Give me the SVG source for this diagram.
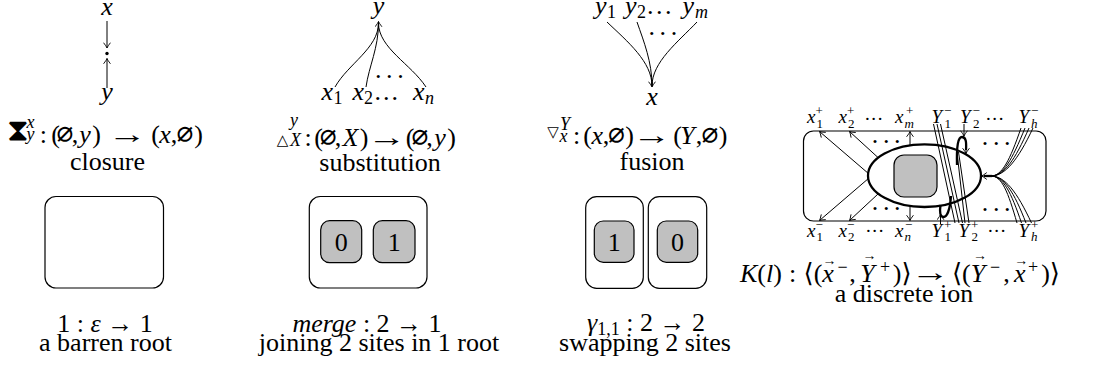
<svg xmlns="http://www.w3.org/2000/svg" width="1094" height="365" viewBox="0 0 1094 365" font-family="'Liberation Serif', 'Times New Roman', 'DejaVu Serif', serif">
<defs>
<style>
text{font-family:'Liberation Serif','Times New Roman','DejaVu Serif',serif;fill:#000}
.m{font-size:26px}
.i{font-style:italic}
.u{font-style:normal}
.s{font-size:18px}
.es{font-family:'DejaVu Sans Mono','DejaVu Sans',monospace;font-size:28px;font-style:normal}
.sym{font-family:'DejaVu Sans','DejaVu Serif',sans-serif}
.lab{font-size:19px;font-style:italic}
.sc{font-size:13px}
.dt{font-size:26px;letter-spacing:4.6px}
.ldt{font-size:19px;letter-spacing:1.6px;font-style:normal}
.va{font-size:14px;font-style:normal}
.ln{fill:none;stroke:#000;stroke-width:1}
.th{fill:none;stroke:#000;stroke-width:2.3}
.box{fill:#fff;stroke:#000;stroke-width:1.2}
.site{fill:#c0c0c0;stroke:#000;stroke-width:1.2}
.a{marker-end:url(#ah)}
</style>
<marker id="ah" viewBox="-6 -4 7 8" refX="0" refY="0" markerWidth="7" markerHeight="8" orient="auto" markerUnits="userSpaceOnUse">
<path d="M-5,-3.2 Q-1.8,-0.7 0,0 Q-1.8,0.7 -5,3.2" fill="none" stroke="#000" stroke-width="0.9" stroke-linecap="round"/>
</marker>
</defs>
<rect width="1094" height="365" fill="#fff"/>

<g id="closure">
<text class="m i" x="107" y="15" text-anchor="middle">x</text>
<circle cx="107" cy="53.5" r="1.7"/>
<text class="m i" x="107" y="100" text-anchor="middle">y</text>
<text class="sym" x="17.5" y="140" text-anchor="middle" style="font-size:31px">⧗</text>
<text class="s i" x="26.5" y="128.3">x</text>
<text class="s i" x="26.5" y="140">y</text>
<text class="m" text-anchor="middle" y="142.5"><tspan x="43.3">:</tspan><tspan x="55.5">(</tspan><tspan class="es" x="65">∅</tspan><tspan x="75">,</tspan><tspan class="i" x="85">y</tspan><tspan x="96.5">)</tspan><tspan x="155.5">(</tspan><tspan class="i" x="165">x</tspan><tspan x="174">,</tspan><tspan class="es" x="185">∅</tspan><tspan x="198.5">)</tspan></text>
<text class="m" text-anchor="middle" transform="translate(127.5 142.5) scale(1.5 1)">→</text>
<text class="m" x="107.5" y="170" text-anchor="middle">closure</text>
</g>

<g id="substitution">
<text class="m i" x="378.5" y="13.5" text-anchor="middle">y</text>
<text class="dt" x="375" y="78.2">...</text>
<text class="m i" y="100"><tspan x="321.5">x</tspan><tspan class="s u" x="333.5" y="104">1</tspan><tspan x="352.5" y="100">x</tspan><tspan class="s u" x="364" y="104">2</tspan><tspan class="u" x="374.5" y="100" style="letter-spacing:2px">...</tspan><tspan x="413" y="100">x</tspan><tspan class="s" x="425" y="104">n</tspan></text>
<text class="sym" x="282.5" y="144.5" text-anchor="middle" style="font-size:15px">△</text>
<text class="s i" x="290" y="126.3">y</text>
<text class="s i" x="290" y="145.5">X</text>
<text class="m" text-anchor="middle" y="145.5"><tspan x="308">:</tspan><tspan x="318.5">(</tspan><tspan class="es" x="328.3">∅</tspan><tspan x="338">,</tspan><tspan class="i" x="350.5">X</tspan><tspan x="364.2">)</tspan><tspan x="410">(</tspan><tspan class="es" x="420">∅</tspan><tspan x="429.5">,</tspan><tspan class="i" x="440">y</tspan><tspan x="451.5">)</tspan></text>
<text class="m" text-anchor="middle" transform="translate(387 145.5) scale(1.5 1)">→</text>
<text class="m" x="380" y="171" text-anchor="middle">substitution</text>
</g>

<g id="fusion">
<text class="m i" y="13.5"><tspan x="595">y</tspan><tspan class="s u" x="607" y="17.5">1</tspan><tspan x="625" y="13.5">y</tspan><tspan class="s u" x="637" y="17.5">2</tspan><tspan class="u" x="647" y="13.5" style="letter-spacing:2.5px">...</tspan><tspan x="682.5" y="13.5">y</tspan><tspan class="s" x="695" y="17.5">m</tspan></text>
<text class="dt" x="648.5" y="34.8">...</text>
<text class="m i" x="652" y="104.5" text-anchor="middle">x</text>
<text class="sym" x="553" y="137" text-anchor="middle" style="font-size:15px">▽</text>
<text class="s i" x="560" y="130">Y</text>
<text class="s i" x="559.5" y="142">x</text>
<text class="m" text-anchor="middle" y="143.5"><tspan x="576.7">:</tspan><tspan x="587.5">(</tspan><tspan class="i" x="597.3">x</tspan><tspan x="606">,</tspan><tspan class="es" x="616.5">∅</tspan><tspan x="629.5">)</tspan><tspan x="677.5">(</tspan><tspan class="i" x="687.5">Y</tspan><tspan x="699">,</tspan><tspan class="es" x="710">∅</tspan><tspan x="723">)</tspan></text>
<text class="m" text-anchor="middle" transform="translate(652 143.5) scale(1.5 1)">→</text>
<text class="m" x="652" y="170" text-anchor="middle">fusion</text>
</g>

<g id="ion">
<rect class="box" x="803.5" y="131" width="242.5" height="90" rx="10"/>
<ellipse cx="924.5" cy="175.7" rx="56.5" ry="31.3" fill="none" stroke="#000" stroke-width="2.3"/>
<rect class="site" x="894" y="155" width="43" height="42" rx="10"/>
<text class="dt" x="871.8" y="142.5">...</text>
<text class="dt" x="871.8" y="209.8">...</text>
<text class="dt" x="981.8" y="144.8">...</text>
<text class="dt" x="981.8" y="210.8">...</text>
<text class="lab">
<tspan x="807" y="123">x</tspan><tspan class="sc u" x="816.5" y="127.5">1</tspan><tspan class="sc u" x="815.5" y="114.5">+</tspan>
<tspan x="838.5" y="123">x</tspan><tspan class="sc u" x="848" y="127.5">2</tspan><tspan class="sc u" x="847" y="114.5">+</tspan>
<tspan class="ldt" x="865" y="119.5">...</tspan>
<tspan x="895" y="123">x</tspan><tspan class="sc" x="904.5" y="127.5">m</tspan><tspan class="sc u" x="906" y="114.5">+</tspan>
<tspan x="931.5" y="123">Y</tspan><tspan class="sc u" x="944.5" y="127.5">1</tspan><tspan class="sc u" x="944" y="114.5">−</tspan>
<tspan x="960" y="123">Y</tspan><tspan class="sc u" x="973" y="127.5">2</tspan><tspan class="sc u" x="972.5" y="114.5">−</tspan>
<tspan class="ldt" x="986" y="119.5">...</tspan>
<tspan x="1018.5" y="123">Y</tspan><tspan class="sc" x="1031" y="127.5">h</tspan><tspan class="sc u" x="1031" y="114.5">−</tspan>
</text>
<text class="lab">
<tspan x="807" y="236.5">x</tspan><tspan class="sc u" x="816.5" y="241">1</tspan><tspan class="sc u" x="815.5" y="229">−</tspan>
<tspan x="838.5" y="236.5">x</tspan><tspan class="sc u" x="848" y="241">2</tspan><tspan class="sc u" x="847" y="229">−</tspan>
<tspan class="ldt" x="866" y="232">...</tspan>
<tspan x="895" y="236.5">x</tspan><tspan class="sc" x="904.5" y="241">n</tspan><tspan class="sc u" x="905" y="229">−</tspan>
<tspan x="931.5" y="236.5">Y</tspan><tspan class="sc u" x="944.5" y="241">1</tspan><tspan class="sc u" x="944" y="229">+</tspan>
<tspan x="958.5" y="236.5">Y</tspan><tspan class="sc u" x="971.5" y="241">2</tspan><tspan class="sc u" x="971" y="229">+</tspan>
<tspan class="ldt" x="988" y="232">...</tspan>
<tspan x="1018.5" y="236.5">Y</tspan><tspan class="sc" x="1031" y="241">h</tspan><tspan class="sc u" x="1031" y="229">+</tspan>
</text>
<text class="m" text-anchor="middle" y="282"><tspan class="i" x="748.7">K</tspan><tspan x="761.7">(</tspan><tspan class="i" x="769.6">l</tspan><tspan x="777.6">)</tspan><tspan x="792.7">:</tspan><tspan class="sym" x="808.5">⟨</tspan><tspan x="818">(</tspan><tspan class="i" x="828">x</tspan><tspan class="s" x="842.5" y="272.5">−</tspan><tspan x="852.5" y="282">,</tspan><tspan class="i" x="867.4">Y</tspan><tspan class="s" x="885" y="272.5">+</tspan><tspan x="897" y="282">)</tspan><tspan class="sym" x="906.5">⟩</tspan><tspan class="sym" x="957">⟨</tspan><tspan x="966.3">(</tspan><tspan class="i" x="978">Y</tspan><tspan class="s" x="995" y="272.5">−</tspan><tspan x="1006.5" y="282">,</tspan><tspan class="i" x="1019.8">x</tspan><tspan class="s" x="1033" y="272.5">+</tspan><tspan x="1045.5" y="282">)</tspan><tspan class="sym" x="1054.8">⟩</tspan></text>
<text class="m" text-anchor="middle" transform="translate(930.5 281) scale(1.5 1)">→</text>
<text class="va" text-anchor="middle" x="829.5" y="265">→</text>
<text class="va" text-anchor="middle" x="869.4" y="260">→</text>
<text class="va" text-anchor="middle" x="980" y="260">→</text>
<text class="va" text-anchor="middle" x="1021.3" y="265">→</text>
<text class="m" x="904" y="302" text-anchor="middle">a discrete ion</text>
</g>

<g id="barren-root">
<rect class="box" x="45" y="196.5" width="118.5" height="91.5" rx="11"/>
<text class="m" x="105" y="332" text-anchor="middle">1 : <tspan class="i">ε</tspan> → 1</text>
<text class="m" x="105.5" y="350.5" text-anchor="middle">a barren root</text>
</g>

<g id="merge">
<rect class="box" x="309.3" y="196.5" width="117.7" height="91.5" rx="11"/>
<rect class="site" x="320.7" y="220.7" width="41" height="42" rx="9"/>
<rect class="site" x="373.3" y="220.7" width="41.7" height="42" rx="9"/>
<text class="m" x="341.2" y="250.7" text-anchor="middle">0</text>
<text class="m" x="394.2" y="250.7" text-anchor="middle">1</text>
<text class="m" x="367" y="332" text-anchor="middle"><tspan class="i">merge</tspan> : 2 → 1</text>
<text class="m" x="379" y="350.5" text-anchor="middle">joining 2 sites in 1 root</text>
</g>

<g id="swap">
<rect class="box" x="585.7" y="196.7" width="57.6" height="91.6" rx="11"/>
<rect class="box" x="648.3" y="196.7" width="58.4" height="91.6" rx="11"/>
<rect class="site" x="594.3" y="221" width="39.7" height="41.3" rx="9"/>
<rect class="site" x="657.3" y="221" width="40.4" height="41.3" rx="9"/>
<text class="m" x="614.2" y="250.7" text-anchor="middle">1</text>
<text class="m" x="677.5" y="250.7" text-anchor="middle">0</text>
<text class="m" x="646" y="331" text-anchor="middle"><tspan class="i">γ</tspan><tspan class="s" dy="4">1,1</tspan><tspan dy="-4"> : 2 → 2</tspan></text>
<text class="m" x="645" y="351" text-anchor="middle">swapping 2 sites</text>
</g>

<g id="connectors">
<line class="ln a" x1="107" y1="21" x2="107" y2="48"/>
<line class="ln a" x1="107" y1="88" x2="107" y2="58.5"/>

<path class="ln" d="M378.5,23 C378.5,48 348,64 335,87"/>
<path class="ln" d="M378.5,23 C378.5,48 369,66 366,87"/>
<path class="ln" d="M378.5,23 C378.5,48 411,64 426,87"/>
<line class="ln a" x1="378.5" y1="28" x2="378.5" y2="21.5"/>

<path class="ln" d="M607,22 C628,42 652,62 652,86"/>
<path class="ln" d="M637,22 C644,42 652,62 652,86"/>
<path class="ln" d="M697,22 C678,42 652,62 652,86"/>
<line class="ln a" x1="652" y1="80" x2="652" y2="87"/>

<path class="ln a" d="M869,174 L819.5,131.5"/>
<path class="ln a" d="M878,157.5 L849.5,131.5"/>
<path class="ln a" d="M910,145 L910,131.5"/>
<path class="ln a" d="M869,178 L819.5,220.5"/>
<path class="ln a" d="M878,194 L849.5,220.5"/>
<path class="ln a" d="M910,206.5 L910,220.5"/>

<path class="ln" d="M933.5,124 L955,223"/>
<path class="ln" d="M937,124 L959,223"/>
<path class="ln" d="M940.5,124 L962.5,223"/>
<path class="ln" d="M957,152 L965,223"/>
<path class="ln" d="M958.5,152 L969,223"/>
<path class="th" d="M957,165 C956.5,146 958,137 962,137 C966,137 966.5,142 966,150"/>
<line class="ln a" x1="966" y1="146" x2="966" y2="153.5"/>
<line class="ln a" x1="964" y1="124" x2="964" y2="136"/>
<path class="th" d="M951,196 C950,210 947,217 943.5,217 C940,217 939.5,212 940.5,205"/>
<line class="ln a" x1="940.5" y1="224" x2="940.5" y2="214.5"/>

<path class="th" d="M992,176 L984,176"/>
<line class="ln a" x1="986" y1="176" x2="981.5" y2="176"/>
<path class="ln" d="M991,176 C1002,176 1010,160 1021,128"/>
<path class="ln" d="M991,176 C1003,176 1012,160 1025,128"/>
<path class="ln" d="M991,176 C1004,176 1015,160 1029,128"/>
<path class="ln" d="M991,176 C1005,176 1018,160 1033,128"/>
<path class="ln" d="M991,176 C1002,176 1008,192 1017,223"/>
<path class="ln" d="M991,176 C1003,176 1011,192 1021.5,223"/>
<path class="ln" d="M991,176 C1004,176 1014,192 1026,223"/>
<path class="ln" d="M991,176 C1005,176 1017,192 1031.5,223"/>
</g>
</svg>
